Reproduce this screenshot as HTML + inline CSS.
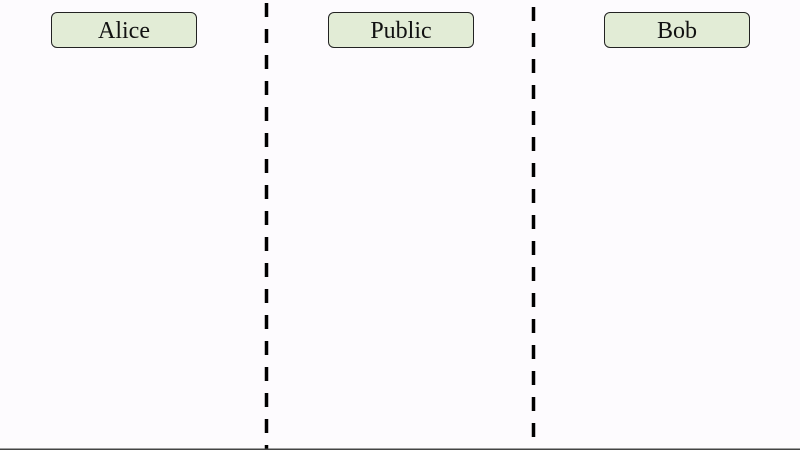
<!DOCTYPE html>
<html><head><style>
body{margin:0;width:800px;height:450px;background:#fdfbfe;position:relative;overflow:hidden;font-family:"Liberation Serif",serif}
.b{position:absolute;top:12px;width:144px;height:34px;border:1.3px solid #222;border-radius:6px;background:#e2ecd6;font-size:24px;text-align:center;line-height:37px;color:#111;box-sizing:content-box}
</style></head><body>
<div class="b" style="left:51px">Alice</div>
<div class="b" style="left:328px">Public</div>
<div class="b" style="left:604px">Bob</div>
<svg width="800" height="450" style="position:absolute;left:0;top:0">
<line x1="266.5" y1="3" x2="266.5" y2="450" stroke="#000" stroke-width="3.5" stroke-dasharray="14 12"/>
<line x1="533.5" y1="7" x2="533.5" y2="450" stroke="#000" stroke-width="3.5" stroke-dasharray="14 12"/>
<line x1="0" y1="449.2" x2="800" y2="449.2" stroke="#444" stroke-width="1.5"/>
</svg>
</body></html>
